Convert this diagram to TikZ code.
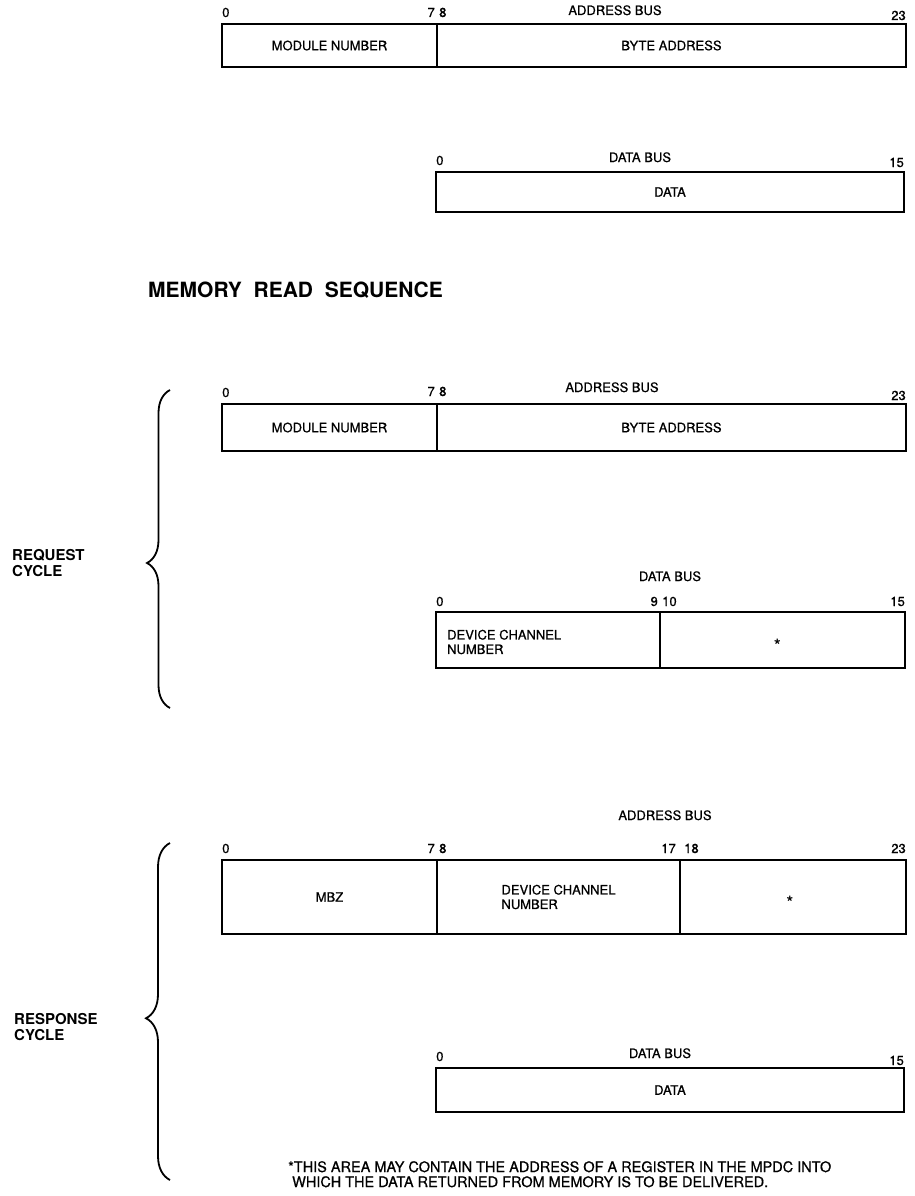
\documentclass[tikz,border=0pt]{standalone}
\usepackage{fontspec}
\setmainfont{TeX Gyre Heros}
\newfontfamily\medfont{TeX Gyre Heros}[FakeBold=0.7]
\usetikzlibrary{positioning,decorations.pathreplacing}
\newcommand{\lblsize}{\medfont\fontsize{13}{14.5}\selectfont}
\newcommand{\ttlsize}{\fontsize{21}{23}\selectfont}
\tikzset{
  field/.style={draw, line width=2.2pt, inner sep=0pt, outer sep=0pt,
    align=center, font=\lblsize},
  bitnum/.style={inner sep=0pt, font=\lblsize},
  buslbl/.style={inner sep=0pt, font=\lblsize, anchor=base},
  cyclbl/.style={inner sep=0pt, font=\fontsize{15}{16.5}\selectfont\bfseries, align=left, anchor=west},
  cycbrace/.style={decorate, line width=1.8pt},
  star/.style={inner sep=0pt, font=\fontsize{17}{18}\selectfont\bfseries}
}

\begin{document}
\begin{tikzpicture}[x=1pt,y=-1pt]
  \useasboundingbox (0,0) rectangle (914,1196);

  % write: address bus
  \node[field, minimum width=215, minimum height=43, anchor=north west] (a1mod) at (222,24) {MODULE NUMBER};
  \node[field, minimum width=469, minimum height=43, right=0pt of a1mod] (a1byte) {BYTE ADDRESS};
  \node[bitnum, anchor=base west] (a1n0) at ([yshift=7pt]a1mod.north west) {0};
  \node[bitnum, anchor=base east] (a1n7) at ([xshift=-2pt,yshift=7pt]a1mod.north east) {7};
  \node[bitnum, anchor=base west] (a1n8) at ([xshift=2pt,yshift=7pt]a1byte.north west) {8};
  \node[bitnum, anchor=base east] (a1n23) at ([yshift=4pt]a1byte.north east) {23};
  \node[buslbl] (a1bus) at (615,15) {ADDRESS BUS};

  % write: data bus
  \node[field, minimum width=468, minimum height=40, anchor=north west] (d1data) at (436,172) {DATA};
  \node[bitnum, anchor=base west] (d1n0) at ([yshift=7pt]d1data.north west) {0};
  \node[bitnum, anchor=base east] (d1n15) at ([yshift=5pt]d1data.north east) {15};
  \node[buslbl] (d1bus) at (640,162) {DATA BUS};

  \node[anchor=base west, inner sep=0pt, font=\ttlsize\bfseries] (title) at (148,297) {MEMORY\ \ READ\ \ SEQUENCE};

  % request cycle: address bus
  \node[field, minimum width=215, minimum height=47, anchor=north west] (a2mod) at (222,404) {MODULE NUMBER};
  \node[field, minimum width=469, minimum height=47, right=0pt of a2mod] (a2byte) {BYTE ADDRESS};
  \node[bitnum, anchor=base west] (a2n0) at ([yshift=7pt]a2mod.north west) {0};
  \node[bitnum, anchor=base east] (a2n7) at ([xshift=-2pt,yshift=8pt]a2mod.north east) {7};
  \node[bitnum, anchor=base west] (a2n8) at ([xshift=2pt,yshift=8pt]a2byte.north west) {8};
  \node[bitnum, anchor=base east] (a2n23) at ([yshift=4pt]a2byte.north east) {23};
  \node[buslbl] (a2bus) at (612,392) {ADDRESS BUS};

  % request cycle: data bus
  \node[field, minimum width=224, minimum height=56, anchor=north west] (d2dev) at (436,612) {};
  \node[field, minimum width=245, minimum height=56, right=0pt of d2dev] (d2rest) {};
  \node[inner sep=0pt, font=\lblsize, align=left, anchor=west] (d2devtxt) at ([xshift=11pt,yshift=-2pt]d2dev.west) {DEVICE CHANNEL\\NUMBER};
  \node[star] (d2star) at ([xshift=-5pt,yshift=-5pt]d2rest.center) {*};
  \node[bitnum, anchor=base west] (d2n0) at ([yshift=6pt]d2dev.north west) {0};
  \node[bitnum, anchor=base east] (d2n9) at ([xshift=-2pt,yshift=6pt]d2dev.north east) {9};
  \node[bitnum, anchor=base west] (d2n10) at ([xshift=2pt,yshift=6pt]d2rest.north west) {10};
  \node[bitnum, anchor=base east] (d2n15) at ([yshift=6pt]d2rest.north east) {15};
  \node[buslbl] (d2bus) at (670,581) {DATA BUS};

  \node[cyclbl] (reqlbl) at (12,563) {REQUEST\\CYCLE};
  \draw[cycbrace, decoration={brace, amplitude=23pt, aspect=0.456}] (170,708) -- (170,390);

  % response cycle: address bus
  \node[field, minimum width=215, minimum height=74, anchor=north west] (a3mbz) at (222,860) {MBZ};
  \node[field, minimum width=243, minimum height=74, right=0pt of a3mbz, align=left] (a3dev) {DEVICE CHANNEL\\NUMBER};
  \node[field, minimum width=226, minimum height=74, right=0pt of a3dev] (a3rest) {};
  \node[star] (a3star) at ([xshift=-3pt,yshift=-5pt]a3rest.center) {*};
  \node[bitnum, anchor=base west] (a3n0) at ([yshift=7pt]a3mbz.north west) {0};
  \node[bitnum, anchor=base east] (a3n7) at ([xshift=-2pt,yshift=7pt]a3mbz.north east) {7};
  \node[bitnum, anchor=base west] (a3n8) at ([xshift=2pt,yshift=7pt]a3dev.north west) {8};
  \node[bitnum, anchor=base east] (a3n17) at ([xshift=-4pt,yshift=7pt]a3dev.north east) {17};
  \node[bitnum, anchor=base west] (a3n18) at ([xshift=4pt,yshift=7pt]a3rest.north west) {18};
  \node[bitnum, anchor=base east] (a3n23) at ([yshift=7pt]a3rest.north east) {23};
  \node[buslbl] (a3bus) at (665,820) {ADDRESS BUS};

  % response cycle: data bus
  \node[field, minimum width=468, minimum height=44, anchor=north west] (d3data) at (436,1068) {DATA};
  \node[bitnum, anchor=base west] (d3n0) at ([yshift=7pt]d3data.north west) {0};
  \node[bitnum, anchor=base east] (d3n15) at ([yshift=3pt]d3data.north east) {15};
  \node[buslbl] (d3bus) at (660,1058) {DATA BUS};

  \node[cyclbl] (rsplbl) at (14,1027) {RESPONSE\\CYCLE};
  \draw[cycbrace, decoration={brace, amplitude=24pt, aspect=0.48}] (170,1180) -- (170,843);

  \node[inner sep=0pt, font=\medfont\fontsize{14.5}{15}\selectfont, align=left, anchor=north west] (note) at (288,1161)
    {*THIS AREA MAY CONTAIN THE ADDRESS OF A REGISTER IN THE MPDC INTO\\
     \hspace{4pt}WHICH THE DATA RETURNED FROM MEMORY IS TO BE DELIVERED.};
\end{tikzpicture}
\end{document}
